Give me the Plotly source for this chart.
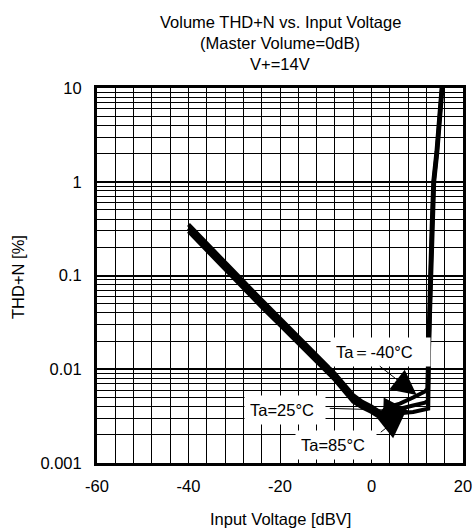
import math
import plotly.graph_objects as go

# ---------------- data ----------------
title_lines = ["Volume THD+N vs. Input Voltage", "(Master Volume=0dB)", "V+=14V"]
x_label = "Input Voltage [dBV]"
y_label = "THD+N [%]"

x_tick_vals = [-60, -40, -20, 0, 20]
x_tick_text = ["-60", "-40", "-20", "0", "20"]
y_tick_vals = [0.001, 0.01, 0.1, 1, 10]
y_tick_text = ["0.001", "0.01", "0.1", "1", "10"]

vin_m40 = [-40, -36, -32, -28, -24, -20, -16, -12, -8, -4, -2, 0, 1, 2.2, 3.3,
           6.2, 9.1, 11.7, 12.2, 12.4, 12.8, 13.15, 13.5, 14.2, 14.8, 15.35]
thd_m40 = [0.35, 0.218, 0.138, 0.087, 0.055, 0.035, 0.0224, 0.0142, 0.0090, 0.0053, 0.0045, 0.0040, 0.0037, 0.0034, 0.0039,
           0.0043, 0.0050, 0.0058, 0.0062, 0.02, 0.09, 0.33, 1.0, 2.1, 4.7, 10.5]

vin_25 = [-40, -36, -32, -28, -24, -20, -16, -12, -8, -4, -2, 0, 1, 2.2, 3.3,
          6.2, 9.1, 11.7, 12.3, 12.5, 12.9, 13.25, 13.6, 14.3, 14.9, 15.45]
thd_25 = [0.32, 0.200, 0.126, 0.079, 0.050, 0.032, 0.0205, 0.0130, 0.0083, 0.0049, 0.0042, 0.0037, 0.0035, 0.0032, 0.0037,
          0.0038, 0.0041, 0.0044, 0.0046, 0.02, 0.09, 0.33, 1.0, 2.1, 4.7, 10.5]

vin_85 = [-40, -36, -32, -28, -24, -20, -16, -12, -8, -4, -2, 0, 1, 2.2, 3.3,
          6.2, 9.1, 11.7, 12.4, 12.6, 13.0, 13.35, 13.7, 14.4, 15.0, 15.55]
thd_85 = [0.295, 0.184, 0.116, 0.073, 0.046, 0.0295, 0.0189, 0.0120, 0.0077, 0.0045, 0.0039, 0.0035, 0.0033, 0.0030, 0.0035,
          0.0034, 0.0035, 0.0037, 0.0038, 0.02, 0.09, 0.33, 1.0, 2.1, 4.7, 10.5]

# label positions (data coords) and arrows (tail -> head)
labels = [
    dict(text="Ta\uff1d-40\u00b0C", x=1.97, y=0.0153, w=89),
    dict(text="Ta=25\u00b0C", x=-18.9, y=0.00367, w=70),
    dict(text="Ta=85\u00b0C", x=-7.76, y=0.00157, w=70),
]
arrows = [
    dict(tx=1.49, ty=0.0111, hx=9.87, hy=0.0053),
    dict(tx=-9.44, ty=0.00383, hx=8.05, hy=0.00362),
    dict(tx=1.70, ty=0.00207, hx=7.32, hy=0.00341),
]

x_grid = [-56, -52, -48, -44, -36, -32, -28, -24, -16, -12, -8, -4, 4, 8, 12, 16]
y_grid = [m * d for d in (0.001, 0.01, 0.1, 1) for m in (2, 3, 4, 5, 6, 7, 8, 9)]

FONT = "Liberation Sans, Arial, sans-serif"
FS = 16.5
W, H = 474, 532
ML, MT = 97, 88
MR, MB = W - 463, H - 463
PW, PH = W - ML - MR, H - MT - MB


def py(px):  # page pixel row -> paper y
    return (H - MB - px) / PH


def pxx(px):  # page pixel column -> paper x
    return (px - ML) / PW


fig = go.Figure()
for xs, ys in ((vin_m40, thd_m40), (vin_25, thd_25), (vin_85, thd_85)):
    fig.add_trace(go.Scatter(x=xs, y=ys, mode="lines",
                             line=dict(color="black", width=4),
                             showlegend=False, hoverinfo="skip"))

for lb in labels:
    fig.add_annotation(x=lb["x"], y=math.log10(lb["y"]), xref="x", yref="y",
                       text=lb["text"], showarrow=False, bgcolor="white",
                       borderpad=5, width=lb["w"], align="left",
                       font=dict(family=FONT, size=FS, color="black"))
for ar in arrows:
    fig.add_annotation(x=ar["hx"], y=math.log10(ar["hy"]),
                       ax=ar["tx"], ay=math.log10(ar["ty"]),
                       xref="x", yref="y", axref="x", ayref="y", text="",
                       showarrow=True, arrowhead=2, arrowsize=5, arrowwidth=1,
                       arrowcolor="black")

# titles
for txt, row in zip(title_lines, (22, 43, 64)):
    fig.add_annotation(x=0.5, y=py(row), xref="paper", yref="paper", text=txt,
                       showarrow=False, xanchor="center", yanchor="middle",
                       font=dict(family=FONT, size=FS, color="black"))
fig.add_annotation(x=0.5, y=py(519), xref="paper", yref="paper", text=x_label,
                   showarrow=False, xanchor="center", yanchor="middle",
                   font=dict(family=FONT, size=FS, color="black"))
fig.add_annotation(x=pxx(18), y=py(277), xref="paper", yref="paper", text=y_label,
                   showarrow=False, xanchor="center", yanchor="middle", textangle=-90,
                   font=dict(family=FONT, size=FS, color="black"))

fig.update_layout(
    width=W, height=H,
    margin=dict(l=ML, r=MR, t=MT, b=MB),
    paper_bgcolor="white", plot_bgcolor="white",
    font=dict(family=FONT, size=FS, color="black"),
)
fig.update_xaxes(range=[-60, 20], tickvals=x_tick_vals, ticktext=x_tick_text,
                 showgrid=True, gridcolor="black", gridwidth=1,
                 minor=dict(tickvals=x_grid, showgrid=True, gridcolor="black", gridwidth=1),
                 showline=True, linecolor="black", linewidth=3, mirror=True,
                 zeroline=False, ticks="", ticklabelstandoff=6, automargin=False)
fig.update_yaxes(type="log", range=[-3, 1], tickvals=y_tick_vals, ticktext=y_tick_text,
                 showgrid=True, gridcolor="black", gridwidth=1.5,
                 minor=dict(tickvals=y_grid, showgrid=True, gridcolor="black", gridwidth=1),
                 showline=True, linecolor="black", linewidth=3, mirror=True,
                 zeroline=False, ticks="", ticklabelstandoff=9, automargin=False)

fig.write_html("out.html", config={"displayModeBar": False},
               post_script="document.body.style.margin='0';document.body.style.overflow='hidden';")
